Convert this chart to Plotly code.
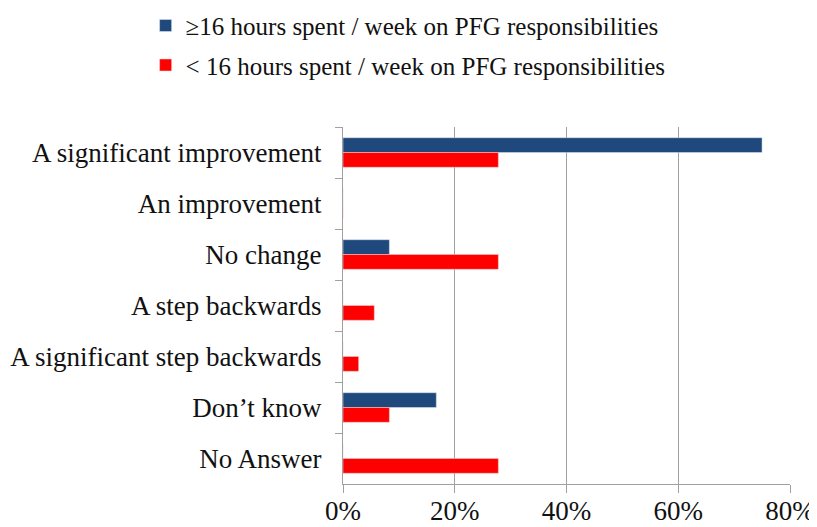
import plotly.graph_objects as go

# Survey answers (top to bottom as shown)
categories = ["A significant improvement", "An improvement", "No change",
              "A step backwards", "A significant step backwards",
              "Don’t know", "No Answer"]

# Share of respondents, in %
over_16 = [75.0, 0, 8.3, 0, 0, 16.7, 0]
under_16 = [27.8, 0, 27.8, 5.6, 2.8, 8.3, 27.8]

series_names = ["≥16 hours spent / week on PFG responsibilities",
                "< 16 hours spent / week on PFG responsibilities"]

x_ticks = [0, 20, 40, 60, 80]
x_tick_labels = ["0%", "20%", "40%", "60%", "80%"]

font = "Liberation Serif, Times New Roman, serif"

fig = go.Figure()
fig.add_trace(go.Bar(
    y=categories, x=over_16, name=series_names[0], orientation="h",
    marker=dict(color="#1F497D", line=dict(color="#dfe6f0", width=0.5)),
    legendgroup="a",
))
fig.add_trace(go.Bar(
    y=categories, x=under_16, name=series_names[1], orientation="h",
    marker=dict(color="#FF0000", line=dict(color="#ffd0d0", width=0.5)),
    legendgroup="b",
))

# page body adds an 8px offset, so the figure is a bit smaller than the window
fig.update_layout(
    width=809, height=519,
    margin=dict(l=335, r=27, t=119, b=43, autoexpand=False),
    plot_bgcolor="white", paper_bgcolor="white",
    font=dict(family=font, size=27, color="#111111"),
    barmode="group", bargap=0.42, bargroupgap=0,
    legend=dict(
        x=-0.4416, y=1.348, xanchor="left", yanchor="top",
        traceorder="grouped", tracegroupgap=4,
        font=dict(family=font, size=25),
    ),
    xaxis=dict(
        range=[0, 80], tickvals=x_ticks, ticktext=x_tick_labels,
        showgrid=True, gridcolor="#a0a0a0", gridwidth=1.3,
        showline=True, linecolor="#a0a0a0", linewidth=1.3,
        ticks="outside", ticklen=8, tickcolor="#a0a0a0",
        zeroline=False, automargin=False, ticklabelstandoff=-6,
    ),
    yaxis=dict(
        autorange="reversed", type="category",
        showline=True, linecolor="#a0a0a0", linewidth=1.3,
        ticks="outside", ticklen=7, tickcolor="#a0a0a0",
        tickson="boundaries", showgrid=False,
        ticklabelstandoff=15, automargin=False,
    ),
)

fig.write_html("out.html")
